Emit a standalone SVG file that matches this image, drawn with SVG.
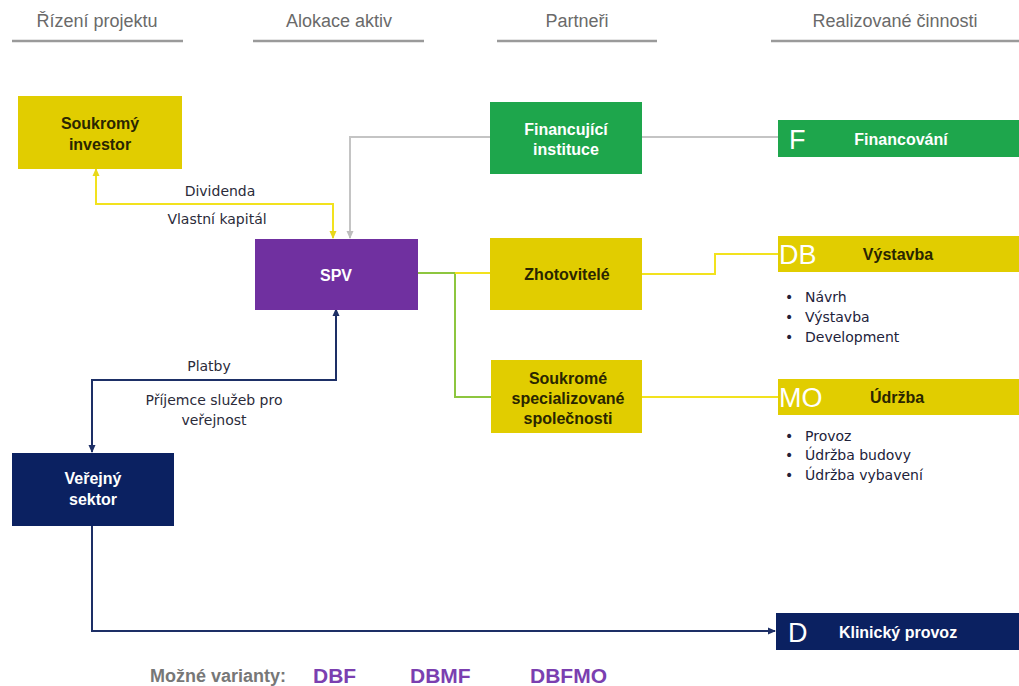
<svg xmlns="http://www.w3.org/2000/svg" width="1019" height="686" viewBox="0 0 1019 686">
  <style>
    .hdr { font-family: "Liberation Sans", Arial, sans-serif; font-size: 18px; fill: #6a6a6a; text-anchor: middle; }
    .rule { stroke: #9a9a9a; stroke-width: 2.5; }
    .box-y { fill: #E1CD00; }
    .box-g { fill: #1EA64C; }
    .box-p { fill: #7030A0; }
    .box-n { fill: #0B2161; }
    .t-dark { font-family: "Liberation Sans", Arial, sans-serif; font-weight: bold; font-size: 16px; fill: #2a2600; text-anchor: middle; }
    .t-light { font-family: "Liberation Sans", Arial, sans-serif; font-weight: bold; font-size: 16px; fill: #ffffff; text-anchor: middle; }
    .big { font-family: "Liberation Sans", Arial, sans-serif; font-size: 27px; fill: #ffffff; }
    .lbl { font-family: "DejaVu Sans", Verdana, sans-serif; font-size: 14px; fill: #2b2b3a; text-anchor: middle; }
    .item { font-family: "DejaVu Sans", Verdana, sans-serif; font-size: 14px; fill: #22223a; }
    .c-y { stroke: #F2E21E; stroke-width: 2; fill: none; }
    .c-g { stroke: #8DC63F; stroke-width: 2; fill: none; }
    .c-gr { stroke: #C4C4C4; stroke-width: 2; fill: none; }
    .c-n { stroke: #1D2F66; stroke-width: 2; fill: none; }
    .var { font-family: "Liberation Sans", Arial, sans-serif; font-size: 21px; font-weight: bold; fill: #7B3FB0; }
  </style>
  <defs>
    <marker id="ah-y" markerWidth="8" markerHeight="8" refX="7" refY="4" orient="auto" markerUnits="userSpaceOnUse">
      <path d="M0,0.5 L8,4 L0,7.5 z" fill="#E8D81A"/>
    </marker>
    <marker id="ah-gr" markerWidth="8" markerHeight="8" refX="7" refY="4" orient="auto" markerUnits="userSpaceOnUse">
      <path d="M0,0.5 L8,4 L0,7.5 z" fill="#BDBDBD"/>
    </marker>
    <marker id="ah-n" markerWidth="8" markerHeight="8" refX="7" refY="4" orient="auto" markerUnits="userSpaceOnUse">
      <path d="M0,0.5 L8,4 L0,7.5 z" fill="#1D2F66"/>
    </marker>
  </defs>

  <rect width="1019" height="686" fill="#ffffff"/>

  <!-- column headers -->
  <g id="headers">
    <text class="hdr" x="97" y="27">Řízení projektu</text>
    <line class="rule" x1="12" y1="41" x2="183" y2="41"/>
    <text class="hdr" x="339" y="27">Alokace aktiv</text>
    <line class="rule" x1="253" y1="41" x2="424" y2="41"/>
    <text class="hdr" x="577" y="27">Partneři</text>
    <line class="rule" x1="497" y1="41" x2="657" y2="41"/>
    <text class="hdr" x="895" y="27">Realizované činnosti</text>
    <line class="rule" x1="771" y1="41" x2="1019" y2="41"/>
  </g>

  <!-- connectors -->
  <g id="connectors">
    <!-- financing (grey) -->
    <polyline class="c-gr" points="490,137 350,137 350,238" marker-end="url(#ah-gr)"/>
    <line class="c-gr" x1="642" y1="137" x2="778" y2="137"/>
    <!-- equity / dividends (yellow) -->
    <polyline class="c-y" points="333,204 96,204 96,169" marker-end="url(#ah-y)"/>
    <polyline class="c-y" points="96,204 333,204 333,238" marker-end="url(#ah-y)"/>
    <!-- SPV to partners -->
    <polyline class="c-g" points="417,273 455,273 455,397 491,397"/>
    <line class="c-y" x1="455" y1="273" x2="490" y2="273"/>
    <polyline class="c-y" points="642,274 715,274 715,254 778,254"/>
    <line class="c-y" x1="642" y1="397" x2="778" y2="397"/>
    <!-- payments (navy) -->
    <polyline class="c-n" points="92,380 336,380 336,309" marker-end="url(#ah-n)"/>
    <polyline class="c-n" points="336,380 92,380 92,452" marker-end="url(#ah-n)"/>
    <polyline class="c-n" points="92,526 92,631 775,631" marker-end="url(#ah-n)"/>
  </g>

  <!-- connector labels -->
  <g id="labels">
    <text class="lbl" x="220" y="196">Dividenda</text>
    <text class="lbl" x="217" y="224">Vlastní kapitál</text>
    <text class="lbl" x="209" y="371">Platby</text>
    <text class="lbl" x="214" y="405">Příjemce služeb pro</text>
    <text class="lbl" x="214" y="425">veřejnost</text>
  </g>

  <g id="investor">
    <rect class="box-y" x="18" y="96" width="164" height="73"/>
    <text class="t-dark" x="100" y="129">Soukromý</text>
    <text class="t-dark" x="100" y="150">investor</text>
  </g>

  <g id="spv">
    <rect class="box-p" x="255" y="239" width="163" height="71"/>
    <text class="t-light" x="336" y="281" font-size="18">SPV</text>
  </g>

  <g id="verejny-sektor">
    <rect class="box-n" x="12" y="453" width="162" height="73"/>
    <text class="t-light" x="93" y="484">Veřejný</text>
    <text class="t-light" x="93" y="505">sektor</text>
  </g>

  <g id="financujici-instituce">
    <rect class="box-g" x="490" y="102" width="152" height="72"/>
    <text class="t-light" x="566" y="135">Financující</text>
    <text class="t-light" x="566" y="155">instituce</text>
  </g>

  <g id="zhotovitele">
    <rect class="box-y" x="490" y="238" width="152" height="72"/>
    <text class="t-dark" x="567" y="280">Zhotovitelé</text>
  </g>

  <g id="specializovane-spolecnosti">
    <rect class="box-y" x="491" y="360" width="151" height="73"/>
    <text class="t-dark" x="568" y="384">Soukromé</text>
    <text class="t-dark" x="568" y="404">specializované</text>
    <text class="t-dark" x="568" y="424">společnosti</text>
  </g>

  <g id="financovani">
    <rect class="box-g" x="778" y="120" width="241" height="37"/>
    <text class="big" x="789" y="149">F</text>
    <text class="t-light" x="901" y="145">Financování</text>
  </g>

  <g id="vystavba">
    <rect class="box-y" x="778" y="236" width="241" height="36"/>
    <text class="big" x="779" y="264">DB</text>
    <text class="t-dark" x="898" y="260">Výstavba</text>
    <text class="item" x="785" y="302">•</text>
    <text class="item" x="805" y="302">Návrh</text>
    <text class="item" x="785" y="322">•</text>
    <text class="item" x="805" y="322">Výstavba</text>
    <text class="item" x="785" y="342">•</text>
    <text class="item" x="805" y="342">Development</text>
  </g>

  <g id="udrzba">
    <rect class="box-y" x="778" y="379" width="241" height="36"/>
    <text class="big" x="779" y="407">MO</text>
    <text class="t-dark" x="897" y="403">Údržba</text>
    <text class="item" x="785" y="441">•</text>
    <text class="item" x="805" y="441">Provoz</text>
    <text class="item" x="785" y="460">•</text>
    <text class="item" x="805" y="460">Údržba budovy</text>
    <text class="item" x="785" y="480">•</text>
    <text class="item" x="805" y="480">Údržba vybavení</text>
  </g>

  <g id="klinicky-provoz">
    <rect class="box-n" x="776" y="613" width="243" height="37"/>
    <text class="big" x="788" y="642">D</text>
    <text class="t-light" x="898" y="638">Klinický provoz</text>
  </g>

  <g id="varianty">
    <text x="150" y="682" font-family="Liberation Sans, Arial, sans-serif" font-size="18" font-weight="bold" fill="#777777">Možné varianty:</text>
    <text class="var" x="313" y="683">DBF</text>
    <text class="var" x="410" y="683">DBMF</text>
    <text class="var" x="530" y="683">DBFMO</text>
  </g>
</svg>
